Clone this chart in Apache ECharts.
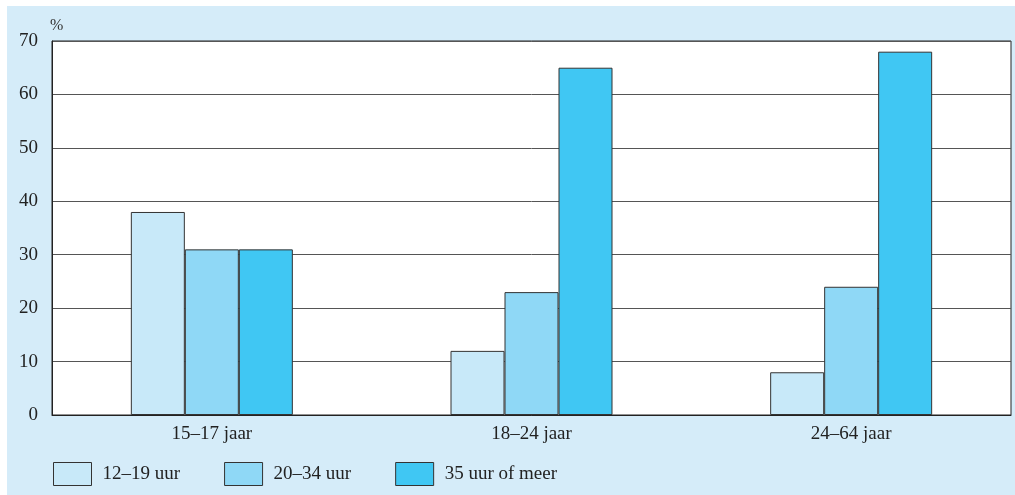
<!DOCTYPE html>
<html>
<head>
<meta charset="utf-8">
<script src="https://cdn.jsdelivr.net/npm/echarts@6/dist/echarts.min.js"></script>
<style>
html,body{margin:0;padding:0;background:#ffffff;}
#bg{position:absolute;left:7px;top:6px;width:1008px;height:489px;background:#d5ecf9;}
#chart{position:absolute;left:0;top:0;width:1015px;height:495px;}
</style>
</head>
<body>
<div id="bg"></div>
<div id="chart"></div>
<script>
const categories = ['15–17 jaar', '18–24 jaar', '24–64 jaar'];
const seriesNames = ['12–19 uur', '20–34 uur', '35 uur of meer'];
const values12_19 = [38, 12, 8];
const values20_34 = [31, 23, 24];
const values35plus = [31, 65, 68];
const yTicks = [0, 10, 20, 30, 40, 50, 60, 70];
const colors = ['#c8e9f9', '#8fd8f6', '#40c7f3'];

const serif = '"Liberation Serif", "DejaVu Serif", serif';
const chart = echarts.init(document.getElementById('chart'));
const mk = (name, data, i) => ({
  name: name,
  type: 'bar',
  data: data,
  barWidth: 54,
  barGap: '0%',
  itemStyle: { color: colors[i], borderColor: '#333', borderWidth: 1 }
});
chart.setOption({
  animation: false,
  backgroundColor: 'transparent',
  grid: {
    left: 52, right: 4, top: 41, bottom: 80,
    show: true, backgroundColor: '#ffffff', borderColor: '#222', borderWidth: 1
  },
  xAxis: {
    type: 'category',
    data: categories,
    axisLine: { lineStyle: { color: '#222', width: 1 } },
    axisTick: { show: false },
    axisLabel: { color: '#222', fontFamily: serif, fontSize: 19, margin: 10 }
  },
  yAxis: {
    type: 'value',
    min: yTicks[0], max: yTicks[yTicks.length - 1], interval: 10,
    name: '%',
    nameLocation: 'end',
    nameGap: 7,
    nameTextStyle: { color: '#333', fontFamily: serif, fontSize: 16, align: 'left', padding: [0, 0, 0, -2] },
    axisLine: { show: true, lineStyle: { color: '#222' } },
    axisTick: { show: false },
    splitLine: { lineStyle: { color: '#555', width: 1 } },
    axisLabel: { color: '#222', fontFamily: serif, fontSize: 19, margin: 14 }
  },
  legend: {
    left: 53, top: 462,
    padding: 0,
    itemWidth: 38, itemHeight: 23,
    itemGap: 44,
    icon: 'rect',
    data: seriesNames,
    textStyle: { color: '#222', fontFamily: serif, fontSize: 19, padding: [0, 0, 0, 6] },
    itemStyle: { borderColor: '#333', borderWidth: 1 }
  },
  series: [
    mk(seriesNames[0], values12_19, 0),
    mk(seriesNames[1], values20_34, 1),
    mk(seriesNames[2], values35plus, 2)
  ]
});
</script>
</body>
</html>
